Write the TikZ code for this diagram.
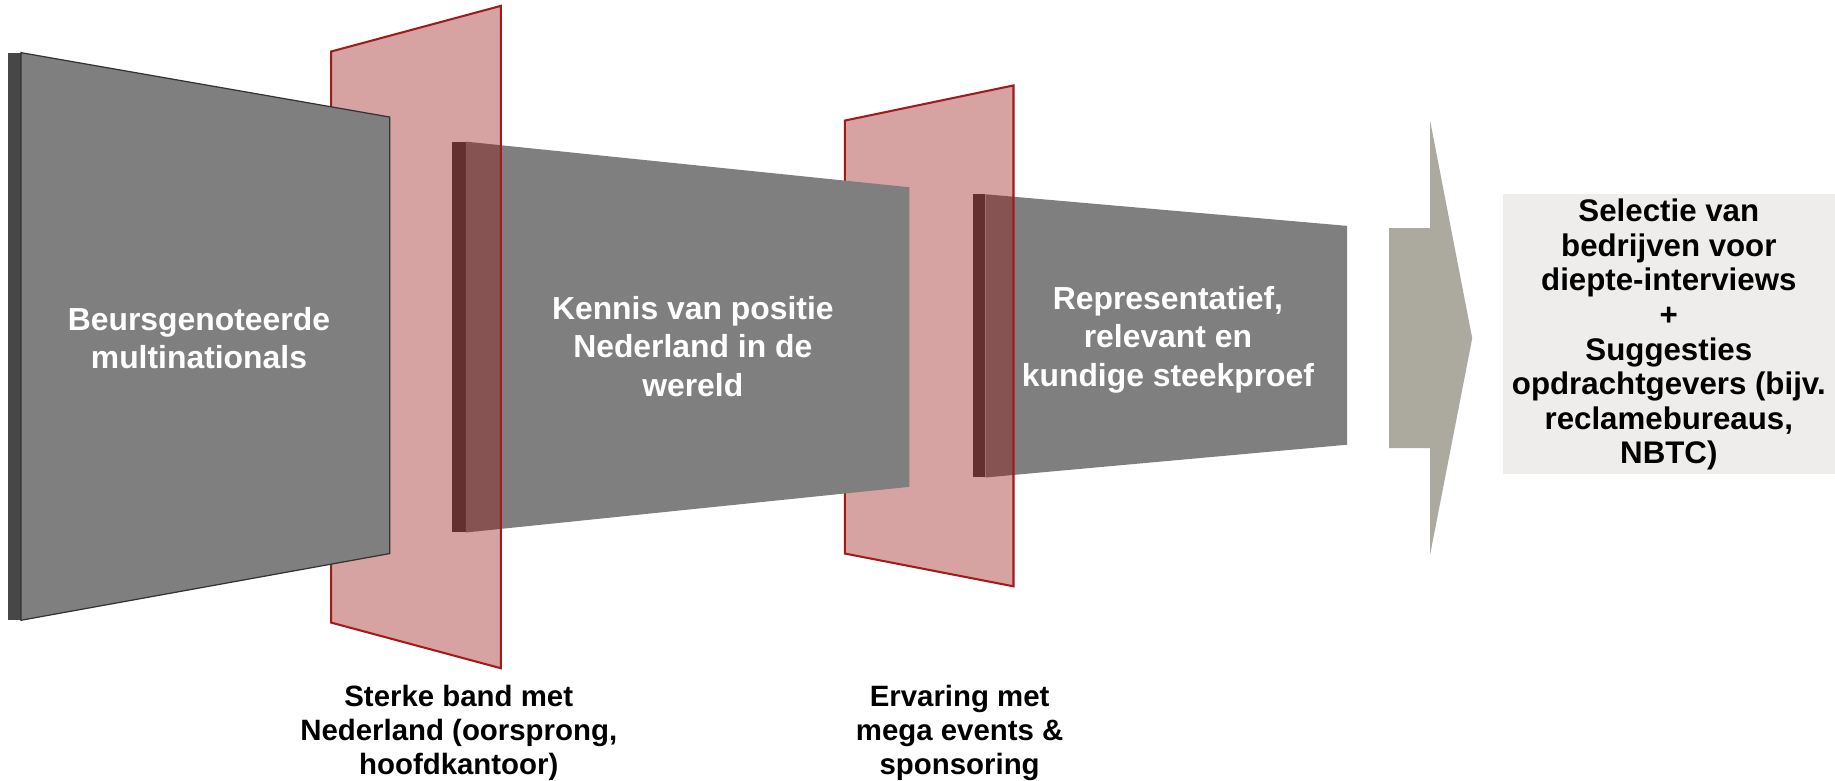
\documentclass[tikz,border=0pt]{standalone}
\usepackage{fontspec}
\setmainfont{Liberation Sans}
\usetikzlibrary{calc}

\definecolor{slabgray}{HTML}{7F7F7F}
\definecolor{slabedge}{HTML}{474747}
\definecolor{filterred}{RGB}{147,10,10}
\definecolor{filterline}{HTML}{A31A1A}
\definecolor{arrowgray}{HTML}{ACA99F}
\definecolor{resultgray}{HTML}{EEEDEB}

\begin{document}
\begin{tikzpicture}[x=0.02cm, y=-0.02cm, font=\bfseries,
  slab/.style={fill=slabgray},
  slabside/.style={fill=slabedge},
  filter/.style={fill=filterred, fill opacity=0.38, draw=filterline, line width=1pt, draw opacity=1, line join=miter},
  whitetext/.style={text=white, align=center, font=\fontsize{15.5}{18.7}\selectfont\bfseries},
  blacktext/.style={text=black, align=center, font=\fontsize{14.3}{16.5}\selectfont\bfseries}]
  \useasboundingbox (0,0) rectangle (1568,667);

  % third slab, behind the second filter
  \fill[slabside] (831,166) rectangle (842,408);
  \fill[slab] (842,166) -- (1151,193) -- (1151,380) -- (842,408) -- cycle;

  % second filter
  \draw[filter] (722,103) -- (866,73) -- (866,501) -- (722,473) -- cycle;

  % second slab
  \fill[slabside] (386,121) rectangle (398,455);
  \fill[slab] (398,121) -- (777,160) -- (777,416) -- (398,455) -- cycle;

  % first filter
  \draw[filter] (283,44) -- (428,5) -- (428,571) -- (283,532) -- cycle;

  % first slab, in front
  \fill[slabside] (7,45) rectangle (18,530);
  \draw[slab, draw=black!80, line width=0.6pt] (18,45) -- (333,100) -- (333,473) -- (18,530) -- cycle;

  % arrow to the result
  \fill[arrowgray] (1187,195) -- (1222,195) -- (1222,103) -- (1258,289)
    -- (1222,474) -- (1222,383) -- (1187,383) -- cycle;
  \fill[resultgray] (1284,166) rectangle (1568,405);

  \node[whitetext] (multi) at (170,289) {Beursgenoteerde\\multinationals};
  \node[whitetext] (kennis) at (592,296) {Kennis van positie\\Nederland in de\\wereld};
  \node[whitetext] (repr) at (998,290) {Representatief,\\relevant en\\kundige steekproef};

  \node[blacktext, font=\fontsize{15.2}{16.8}\selectfont\bfseries] (result) at (1426,286)
    {Selectie van\\bedrijven voor\\diepte-interviews\\+\\Suggesties\\opdrachtgevers (bijv.\\reclamebureaus,\\NBTC)};

  \node[blacktext] (band) at (392,626) {Sterke band met\\Nederland (oorsprong,\\hoofdkantoor)};
  \node[blacktext] (ervaring) at (820,626) {Ervaring met\\mega events \&\\sponsoring};
\end{tikzpicture}
\end{document}
